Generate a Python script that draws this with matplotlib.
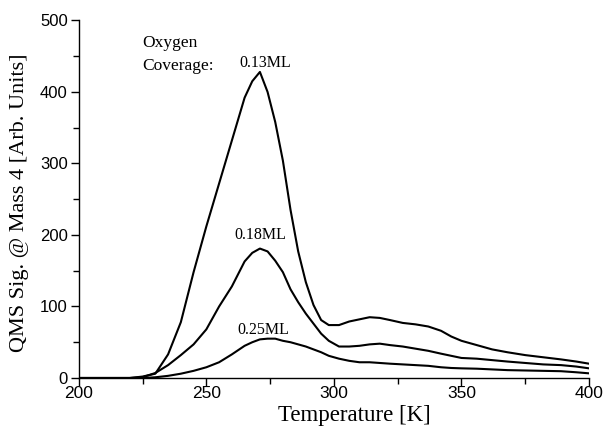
import matplotlib
matplotlib.use("Agg")
import matplotlib.pyplot as plt
from matplotlib.ticker import MultipleLocator

temperature = [200, 205, 210, 215, 220, 225, 230, 235, 240, 245, 250, 255, 260, 265, 268,
               271, 274, 277, 280, 283, 286, 289, 292, 295, 298, 302, 306, 310, 314, 318,
               322, 327, 332, 337, 342, 346, 350, 356, 362, 368, 375, 382, 389, 395, 400]

sig_013 = [0, 0, 0, 0, 0, 2, 6, 33, 78, 148, 212, 272, 332, 392, 415,
           428, 400, 358, 304, 235, 177, 134, 102, 81, 74, 74, 79, 82, 85, 84,
           81, 77, 75, 72, 66, 58, 52, 46, 40, 36, 32, 29, 26, 23, 20]

sig_018 = [0, 0, 0, 0, 0, 1, 7, 18, 32, 47, 68, 100, 128, 163, 175,
           181, 177, 164, 148, 124, 106, 90, 76, 62, 52, 44, 44, 45, 47, 48,
           46, 44, 41, 38, 34, 31, 28, 27, 25, 23, 21, 19, 18, 16, 13.5]

sig_025 = [0, 0, 0, 0, 0, 0, 1, 3, 6, 10, 15, 22, 33, 45, 50,
           54, 55, 55, 52, 50, 47, 44, 40, 36, 31, 27, 24, 22, 22, 21,
           20, 19, 18, 17, 15, 14, 13.5, 13, 12, 11, 10.5, 10, 9.5, 8, 6.5]

series = [("0.13ML", sig_013), ("0.18ML", sig_018), ("0.25ML", sig_025)]
label_pos = {"0.13ML": (273, 441), "0.18ML": (271, 200), "0.25ML": (272.5, 67)}

serif = ["Liberation Serif", "DejaVu Serif"]
sans = ["Liberation Sans", "DejaVu Sans"]

fig = plt.figure(figsize=(6.06, 4.26), dpi=100)
ax = fig.add_axes([0.130, 0.1127, 0.842, 0.8393])

for name, vals in series:
    ax.plot(temperature, vals, color="black", lw=1.5)
    x, y = label_pos[name]
    ax.text(x, y, name, ha="center", va="center", fontsize=11.5, family=serif)

ax.text(224.7, 469, "Oxygen", ha="left", va="center", fontsize=12.5, family=serif)
ax.text(224.7, 436, "Coverage:", ha="left", va="center", fontsize=12.5, family=serif)

ax.set_xlim(200, 400)
ax.set_ylim(0, 500)
ax.xaxis.set_major_locator(MultipleLocator(50))
ax.xaxis.set_minor_locator(MultipleLocator(25))
ax.yaxis.set_major_locator(MultipleLocator(100))
ax.yaxis.set_minor_locator(MultipleLocator(50))

for s in ("top", "right"):
    ax.spines[s].set_visible(False)
for s in ("left", "bottom"):
    ax.spines[s].set_linewidth(1.0)

ax.tick_params(which="major", direction="out", length=6, width=1.0)
ax.tick_params(which="minor", direction="out", length=4, width=1.0)
ax.tick_params(axis="x", labelsize=12.5, pad=0)
ax.tick_params(axis="y", labelsize=12, pad=2)
for lab in ax.get_xticklabels() + ax.get_yticklabels():
    lab.set_family(sans)

fig.text(354 / 606, 1 - 421 / 426, "Temperature [K]", ha="center", va="baseline",
         fontsize=16.5, family=serif)
fig.text(20 / 606, 1 - 203 / 426, "QMS Sig. @ Mass 4 [Arb. Units]", ha="center",
         va="center", rotation=90, fontsize=16, family=serif)

fig.savefig("out.png", dpi=100)
